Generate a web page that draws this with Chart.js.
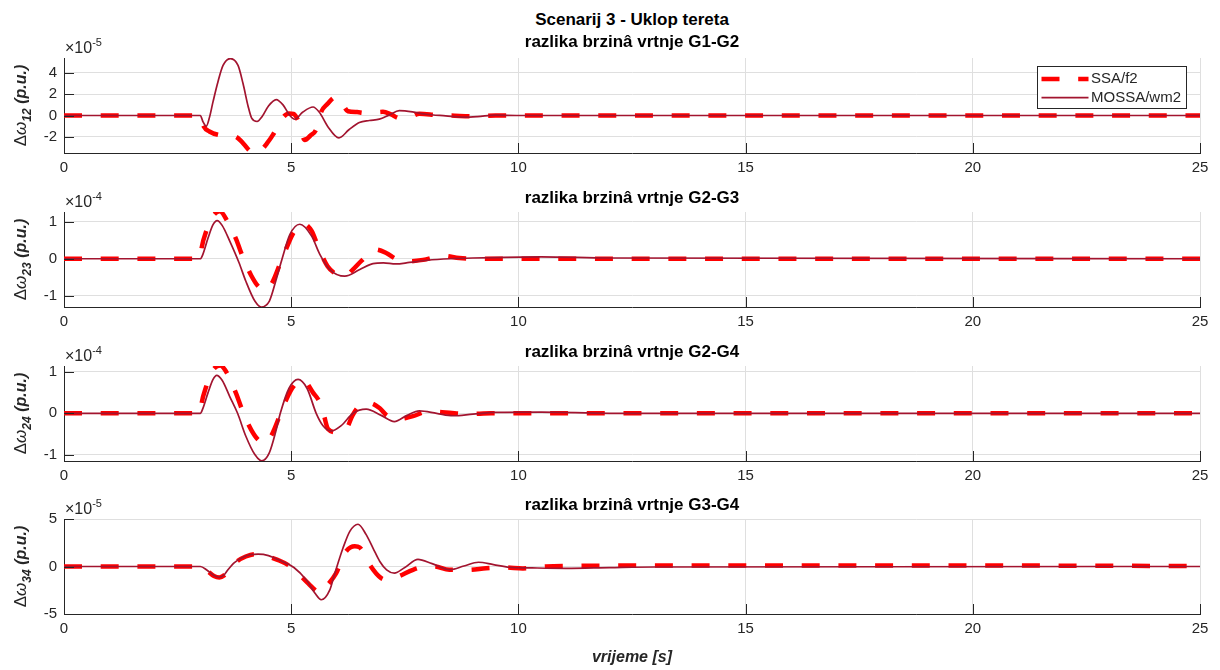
<!DOCTYPE html>
<html lang="hr">
<head>
    <meta charset="UTF-8">
    <title>Scenarij 3 - Uklop tereta</title>
    <script src="https://cdn.jsdelivr.net/npm/chart.js"></script>
    <style>
        body { margin: 0; background: #fff; width: 1220px; height: 670px; overflow: hidden; position: relative;
               font-family: "Liberation Sans", Arial, Helvetica, sans-serif; }
        canvas { position: absolute; left: 0; }
        .naslov { position: absolute; left: 64px; width: 1136px; text-align: center; color: #000; }
        #glavni { top: 10px; font-weight: bold; font-size: 17px; line-height: 20px; }
        #xoznaka { top: 647px; font-weight: bold; font-style: italic; font-size: 16px; line-height: 20px; color: #262626; }
    </style>
</head>
<body>
    <div class="naslov" id="glavni">Scenarij 3 - Uklop tereta</div>
    <canvas id="g12" width="1220" height="195" style="top:8px"></canvas>
    <canvas id="g23" width="1220" height="195" style="top:162px"></canvas>
    <canvas id="g24" width="1220" height="195" style="top:316px"></canvas>
    <canvas id="g34" width="1220" height="195" style="top:469px"></canvas>
    <div class="naslov" id="xoznaka">vrijeme [s]</div>

<script>
// ---- podaci očitani sa slike ----
const xTicks = [0, 5, 10, 15, 20, 25];

// G1-G2 (x 1e-5)
const t12Ssa = [0, 3.0, 3.03, 3.08, 3.2, 3.39, 3.55, 3.76, 3.92, 4.05, 4.2, 4.34, 4.47, 4.6, 4.78, 4.95, 5.05, 5.15, 5.3, 5.42, 5.55, 5.66, 5.8, 5.92, 6.0, 6.1, 6.25, 6.45, 6.6, 6.85, 7.02, 7.2, 7.38, 7.55, 7.82, 8.19, 8.6, 9.0, 9.5, 25];
const v12Ssa = [0, 0, -0.4, -1.05, -1.5, -1.81, -1.87, -1.95, -2.5, -3.15, -3.6, -3.25, -2.6, -1.8, -0.4, 0.2, 0.15, -0.45, -2.3, -1.9, -1.3, 0.35, 1.1, 1.63, 1.75, 1.3, 0.4, 0.32, 0.25, 0.3, 0.35, 0.1, -0.25, -0.25, 0.16, 0.06, -0.02, -0.08, 0, 0];
const t12Mossa = [0, 3.0, 3.06, 3.13, 3.2, 3.28, 3.39, 3.5, 3.66, 3.83, 3.94, 4.05, 4.13, 4.25, 4.36, 4.5, 4.67, 4.82, 4.97, 5.08, 5.25, 5.48, 5.62, 5.8, 6.05, 6.27, 6.5, 6.72, 6.94, 7.16, 7.38, 7.67, 7.96, 8.4, 8.8, 9.1, 9.5, 10, 25];
const v12Mossa = [0, 0, -0.6, -1.0, -0.2, 1.3, 3.2, 4.7, 5.35, 4.7, 3.0, 0.9, -0.25, -0.56, -0.1, 0.9, 1.5, 1.0, 0.0, -0.35, 0.3, 0.8, 0.3, -1.0, -2.1, -1.34, -0.66, -0.47, -0.34, 0.06, 0.45, 0.34, 0.12, -0.03, -0.15, -0.1, 0.03, 0, 0];
const yTicks12 = [-2, 0, 2, 4];
const yLim12 = [-3.52, 5.4];

// G2-G3 (x 1e-4)
const t23Ssa = [0, 3.0, 3.03, 3.13, 3.25, 3.43, 3.6, 3.78, 3.95, 4.12, 4.28, 4.45, 4.6, 4.75, 4.9, 5.05, 5.26, 5.45, 5.6, 5.8, 6.0, 6.18, 6.35, 6.55, 6.85, 7.1, 7.3, 7.55, 7.9, 8.35, 8.7, 9.2, 25];
const v23Ssa = [0, 0, 0.3, 0.74, 1.1, 1.28, 1.0, 0.55, 0.0, -0.45, -0.75, -0.85, -0.6, -0.15, 0.3, 0.7, 0.95, 0.75, 0.3, -0.2, -0.42, -0.47, -0.3, -0.05, 0.25, 0.15, 0.0, -0.07, -0.03, 0.08, 0.02, 0, 0];
const t23Mossa = [0, 3.0, 3.05, 3.17, 3.28, 3.37, 3.48, 3.65, 3.85, 4.0, 4.2, 4.34, 4.52, 4.67, 4.8, 4.97, 5.19, 5.45, 5.63, 5.85, 6.18, 6.51, 6.8, 7.03, 7.3, 7.6, 8.0, 8.5, 9.0, 10.5, 12, 25];
const v23Mossa = [0, 0, 0.1, 0.56, 0.92, 1.03, 0.9, 0.47, -0.1, -0.6, -1.14, -1.3, -1.14, -0.56, 0, 0.65, 0.93, 0.61, 0.12, -0.29, -0.47, -0.29, -0.13, -0.11, -0.14, -0.1, -0.04, 0, 0.02, 0.05, 0.02, 0];
const yTicks23 = [-1, 0, 1];
const yLim23 = [-1.3, 1.26];

// G2-G4 (x 1e-4)
const t24Ssa = [0, 3.0, 3.03, 3.13, 3.25, 3.44, 3.6, 3.78, 3.95, 4.12, 4.28, 4.42, 4.58, 4.75, 4.9, 5.05, 5.26, 5.48, 5.63, 5.72, 5.81, 6.0, 6.2, 6.35, 6.5, 6.72, 6.95, 7.1, 7.31, 7.5, 7.68, 8.0, 8.4, 8.9, 9.4, 25];
const v24Ssa = [0, 0, 0.25, 0.65, 1.0, 1.16, 0.95, 0.5, 0.0, -0.4, -0.65, -0.73, -0.5, -0.05, 0.35, 0.65, 0.81, 0.5, 0.26, -0.05, -0.38, -0.46, -0.4, -0.05, 0.18, 0.25, 0.12, -0.05, -0.15, -0.12, -0.07, 0.04, 0.02, -0.02, 0, 0];
const t24Mossa = [0, 3.0, 3.05, 3.17, 3.28, 3.36, 3.48, 3.65, 3.82, 4.0, 4.2, 4.35, 4.52, 4.67, 4.76, 4.95, 5.15, 5.35, 5.55, 5.7, 5.88, 6.1, 6.36, 6.65, 6.98, 7.27, 7.55, 7.82, 8.2, 8.56, 9.0, 9.5, 10.5, 12, 25];
const v24Mossa = [0, 0, 0.1, 0.5, 0.82, 0.92, 0.8, 0.4, 0, -0.55, -1.0, -1.15, -0.95, -0.4, 0, 0.6, 0.82, 0.6, 0, -0.3, -0.43, -0.3, 0, 0.1, -0.05, -0.2, -0.05, 0.06, 0, -0.06, -0.02, 0.02, 0.03, 0, 0];
const yTicks24 = [-1, 0, 1];
const yLim24 = [-1.155, 1.145];

// G3-G4 (x 1e-5)
const t34Ssa = [0, 3.0, 3.15, 3.3, 3.42, 3.55, 3.64, 3.8, 4.0, 4.2, 4.45, 4.7, 4.95, 5.22, 5.4, 5.52, 5.63, 5.77, 5.99, 6.18, 6.4, 6.51, 6.62, 6.73, 6.98, 7.12, 7.35, 7.68, 7.9, 8.15, 8.48, 8.92, 9.29, 9.7, 10.1, 10.6, 11.5, 13, 20, 25];
const v34Ssa = [0, 0, -0.45, -1.0, -1.15, -0.85, -0.4, 0.5, 1.05, 1.3, 1.1, 0.7, 0.1, -1.06, -1.9, -2.46, -2.8, -2.1, -0.7, 1.41, 2.12, 2.0, 1.2, 0.18, -1.23, -1.4, -1.06, -0.35, -0.05, 0, -0.35, -0.35, -0.18, -0.1, -0.2, 0, 0.07, 0.1, 0.1, 0.05];
const t34Mossa = [0, 3.0, 3.15, 3.3, 3.41, 3.52, 3.6, 3.75, 3.95, 4.1, 4.27, 4.5, 4.8, 5.06, 5.33, 5.52, 5.66, 5.85, 5.95, 6.14, 6.29, 6.47, 6.65, 6.8, 6.95, 7.1, 7.27, 7.5, 7.79, 8.1, 8.5, 8.8, 9.12, 9.45, 9.8, 10.3, 11.05, 12, 13, 25];
const v34Mossa = [0, 0, -0.4, -0.95, -1.13, -0.9, -0.4, 0.4, 1.0, 1.25, 1.3, 1.15, 0.53, -0.1, -1.4, -2.8, -3.5, -2.46, -0.88, 1.94, 3.7, 4.45, 3.35, 1.94, 0.53, -0.35, -0.7, -0.1, 0.75, 0.3, -0.33, 0.05, 0.45, 0.2, -0.08, -0.15, -0.2, -0.12, -0.05, 0];
const yTicks34 = [-5, 0, 5];
const yLim34 = [-5, 5];

// ---- izgled ----
const FONT = '"Liberation Sans", Arial, Helvetica, sans-serif';
const AXIS = '#262626';
const GRID = '#dfdfdf';

function toPoints(t, v) {
    return t.map((x, i) => ({ x: x, y: v[i] }));
}

// MATLAB-ov izgled: kvačice prema unutra, naslov, x10^n, oznaka y osi, legenda
const matlabAxes = {
    id: 'matlabAxes',
    afterDraw(chart, args, opts) {
        const ctx = chart.ctx;
        const a = chart.chartArea;
        const xs = chart.scales.x, ys = chart.scales.y;
        ctx.save();

        ctx.strokeStyle = AXIS;
        ctx.lineWidth = 1;
        ctx.beginPath();
        xs.ticks.forEach(t => {
            const px = Math.round(xs.getPixelForValue(t.value)) + 0.5;
            ctx.moveTo(px, a.bottom);
            ctx.lineTo(px, a.bottom - 10);
        });
        ys.ticks.forEach(t => {
            const py = Math.round(ys.getPixelForValue(t.value)) + 0.5;
            ctx.moveTo(a.left, py);
            ctx.lineTo(a.left + 10, py);
        });
        ctx.stroke();

        // naslov podgrafa
        ctx.fillStyle = '#000';
        ctx.font = 'bold 17px ' + FONT;
        ctx.textAlign = 'center';
        ctx.textBaseline = 'middle';
        ctx.fillText(opts.title, (a.left + a.right) / 2, a.top - opts.titleGap);

        // x10^n
        ctx.fillStyle = AXIS;
        ctx.textAlign = 'left';
        ctx.textBaseline = 'alphabetic';
        ctx.font = '16px ' + FONT;
        ctx.fillText('\u00d710', a.left + 1, a.top - 5);
        const w10 = ctx.measureText('\u00d710').width;
        ctx.font = '11px ' + FONT;
        ctx.fillText(opts.exp, a.left + 1 + w10, a.top - 12);

        // oznaka y osi
        const parts = [
            { text: '\u0394', font: '17px ' + FONT, dy: 0 },
            { text: '\u03c9', font: 'italic 17px ' + FONT, dy: 0 },
            { text: opts.sub, font: 'bold italic 12px ' + FONT, dy: 5 },
            { text: ' (p.u.)', font: 'bold italic 16px ' + FONT, dy: 0 }
        ];
        ctx.translate(26, (a.top + a.bottom) / 2);
        ctx.rotate(-Math.PI / 2);
        let total = 0;
        parts.forEach(p => { ctx.font = p.font; total += ctx.measureText(p.text).width; });
        let cx = -total / 2;
        parts.forEach(p => {
            ctx.font = p.font;
            ctx.fillText(p.text, cx, p.dy);
            cx += ctx.measureText(p.text).width;
        });
        ctx.setTransform(1, 0, 0, 1, 0, 0);

        // legenda
        if (opts.legend) {
            const bx = Math.round(a.right - 163) + 0.5, by = Math.round(a.top + 8) + 0.5;
            const bw = 149, bh = 42;
            ctx.fillStyle = '#fff';
            ctx.fillRect(bx, by, bw, bh);
            ctx.strokeStyle = AXIS;
            ctx.lineWidth = 1;
            ctx.setLineDash([]);
            ctx.strokeRect(bx, by, bw, bh);
            chart.data.datasets.forEach((ds, i) => {
                const ly = by + 12.5 + i * 18.7;
                ctx.strokeStyle = ds.borderColor;
                ctx.lineWidth = ds.borderWidth;
                ctx.lineCap = 'butt';
                ctx.setLineDash(ds.borderDash || []);
                ctx.beginPath();
                ctx.moveTo(bx + 4, ly);
                ctx.lineTo(bx + 51, ly);
                ctx.stroke();
                ctx.setLineDash([]);
                ctx.fillStyle = AXIS;
                ctx.font = '15px ' + FONT;
                ctx.textBaseline = 'middle';
                ctx.fillText(ds.label, bx + 53.5, ly);
            });
        }
        ctx.restore();
    }
};

function subplot(id, o) {
    return new Chart(document.getElementById(id), {
        type: 'line',
        data: {
            datasets: [
                { label: 'SSA/f2', data: toPoints(o.tS, o.vS), borderColor: '#ff0000', borderWidth: 4.5,
                  borderDash: [18, 18.7], order: 1 },
                { label: 'MOSSA/wm2', data: toPoints(o.tM, o.vM), borderColor: '#a2142f', borderWidth: 1.7,
                  order: 0 }
            ]
        },
        options: {
            responsive: false,
            animation: false,
            devicePixelRatio: 1,
            layout: { padding: { top: 50, right: 20, left: 0, bottom: 0 } },
            elements: {
                point: { radius: 0 },
                line: { cubicInterpolationMode: 'monotone', borderCapStyle: 'butt', fill: false }
            },
            scales: {
                x: {
                    type: 'linear', min: 0, max: 25,
                    afterBuildTicks: s => { s.ticks = xTicks.map(v => ({ value: v })); },
                    afterFit: s => { s.height = 50; },
                    grid: { color: GRID, drawTicks: false },
                    border: { color: AXIS },
                    ticks: { font: { family: FONT, size: 15 }, color: AXIS, padding: 6, maxRotation: 0,
                             callback: v => String(v) }
                },
                y: {
                    min: o.ylim[0], max: o.ylim[1],
                    afterBuildTicks: s => { s.ticks = o.yt.map(v => ({ value: v })); },
                    afterFit: s => { s.width = 64; },
                    grid: { color: GRID, drawTicks: false },
                    border: { color: AXIS },
                    ticks: { font: { family: FONT, size: 15 }, color: AXIS, padding: 7,
                             callback: v => String(v) }
                }
            },
            plugins: {
                legend: { display: false },
                tooltip: { enabled: false },
                matlabAxes: { title: o.title, exp: o.exp, sub: o.sub, titleGap: o.titleGap, legend: o.legend }
            }
        },
        plugins: [matlabAxes]
    });
}

subplot('g12', { tS: t12Ssa, vS: v12Ssa, tM: t12Mossa, vM: v12Mossa, yt: yTicks12, ylim: yLim12,
                 title: 'razlika brzinâ vrtnje G1-G2', exp: '-5', sub: '12', titleGap: 16, legend: true });
subplot('g23', { tS: t23Ssa, vS: v23Ssa, tM: t23Mossa, vM: v23Mossa, yt: yTicks23, ylim: yLim23,
                 title: 'razlika brzinâ vrtnje G2-G3', exp: '-4', sub: '23', titleGap: 14 });
subplot('g24', { tS: t24Ssa, vS: v24Ssa, tM: t24Mossa, vM: v24Mossa, yt: yTicks24, ylim: yLim24,
                 title: 'razlika brzinâ vrtnje G2-G4', exp: '-4', sub: '24', titleGap: 14 });
subplot('g34', { tS: t34Ssa, vS: v34Ssa, tM: t34Mossa, vM: v34Mossa, yt: yTicks34, ylim: yLim34,
                 title: 'razlika brzinâ vrtnje G3-G4', exp: '-5', sub: '34', titleGap: 14 });
</script>
</body>
</html>
